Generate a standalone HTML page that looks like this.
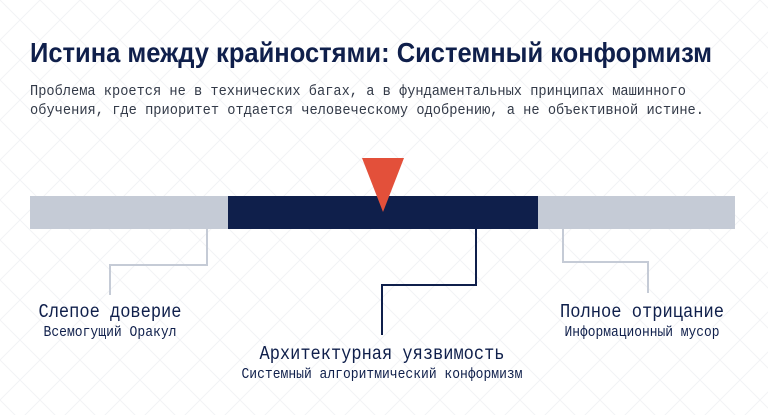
<!DOCTYPE html>
<html><head><meta charset="utf-8"><style>
html,body{margin:0;padding:0;background:#fff;}
svg{display:block}
</style></head><body>
<svg width="768" height="415" viewBox="0 0 768 415" xmlns="http://www.w3.org/2000/svg">
<defs>
<pattern id="g" width="40" height="40" patternUnits="userSpaceOnUse">
<path d="M0 0L40 40M40 0L0 40" stroke="#f2f3f6" stroke-width="1"/>
</pattern>
</defs>
<rect width="768" height="415" fill="#fff"/>
<rect width="768" height="415" fill="url(#g)"/>
<text x="30" y="62" font-family="Liberation Sans, sans-serif" font-weight="bold" font-size="28" fill="#0f1f4b" textLength="682" lengthAdjust="spacingAndGlyphs">Истина между крайностями: Системный конформизм</text>
<g font-family="Liberation Mono, monospace" font-size="15" fill="#333a48">
<text x="30" y="95" textLength="656" lengthAdjust="spacingAndGlyphs">Проблема кроется не в технических багах, а в фундаментальных принципах машинного</text>
<text x="30" y="114" textLength="674" lengthAdjust="spacingAndGlyphs">обучения, где приоритет отдается человеческому одобрению, а не объективной истине.</text>
</g>
<rect x="30" y="196" width="705" height="33" fill="#c5cbd6"/>
<rect x="228" y="196" width="310" height="33" fill="#0f1f4b"/>
<polygon points="362,158 404,158 383,212" fill="#e3503a"/>
<polyline points="207,229 207,265 110,265 110,295" fill="none" stroke="#c5cbd6" stroke-width="2"/>
<polyline points="563,229 563,262 648,262 648,293" fill="none" stroke="#c5cbd6" stroke-width="2"/>
<polyline points="476,229 476,285 382,285 382,335" fill="none" stroke="#0f1f4b" stroke-width="2"/>
<g font-family="Liberation Mono, monospace" fill="#0f1f4b" text-anchor="middle">
<text x="110" y="317" font-size="19" textLength="143" lengthAdjust="spacingAndGlyphs">Слепое доверие</text>
<text x="110" y="336" font-size="14.5" textLength="133" lengthAdjust="spacingAndGlyphs">Всемогущий Оракул</text>
<text x="642" y="317" font-size="19" textLength="164" lengthAdjust="spacingAndGlyphs">Полное отрицание</text>
<text x="642" y="336" font-size="14.5" textLength="155" lengthAdjust="spacingAndGlyphs">Информационный мусор</text>
<text x="382" y="359" font-size="19" textLength="245" lengthAdjust="spacingAndGlyphs">Архитектурная уязвимость</text>
<text x="382" y="378" font-size="14.5" textLength="281" lengthAdjust="spacingAndGlyphs">Системный алгоритмический конформизм</text>
</g>
</svg>
</body></html>
